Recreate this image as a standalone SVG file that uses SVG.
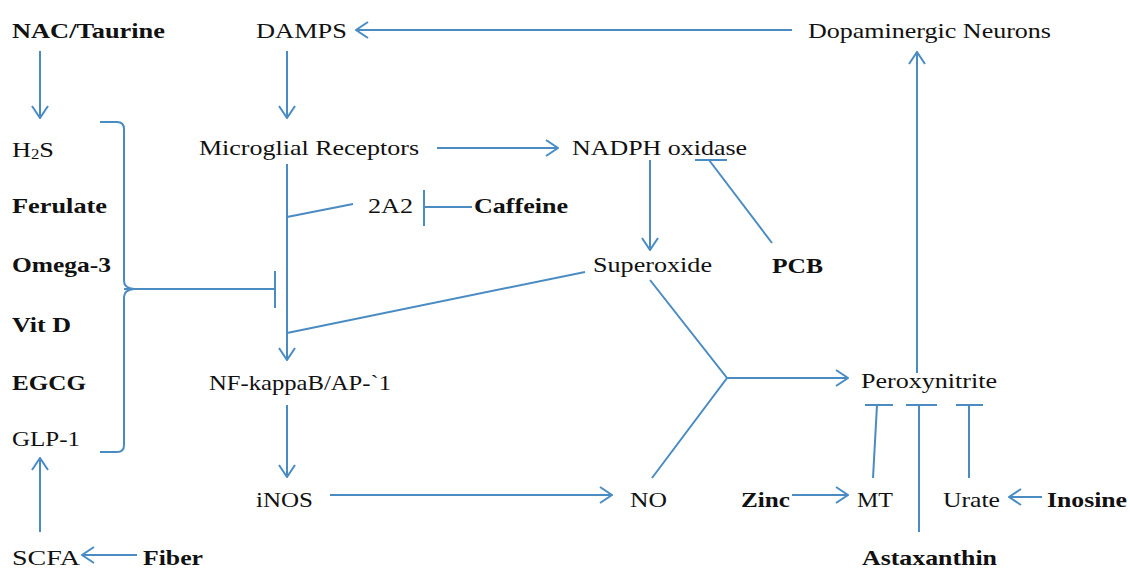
<svg xmlns="http://www.w3.org/2000/svg" width="1130" height="568" viewBox="0 0 1130 568">
<defs>
<style>
text{font-family:"Liberation Serif","Times New Roman",serif;font-size:22px;fill:#111;}
.b{font-weight:bold;}
.c line,.c path,.c polyline{stroke:#4a8bc2;stroke-width:2;fill:none;}
</style>
<marker id="ar" viewBox="0 0 14 18" refX="13" refY="9" markerWidth="14" markerHeight="18" markerUnits="userSpaceOnUse" orient="auto">
<path d="M1,1 L13,9 L1,17" fill="none" stroke="#4a8bc2" stroke-width="2"/>
</marker>
</defs>
<rect width="1130" height="568" fill="#fff"/>
<g class="c" id="connectors">
<line x1="40" y1="51" x2="40" y2="118" marker-end="url(#ar)"/>
<line x1="287" y1="51" x2="287" y2="118" marker-end="url(#ar)"/>
<line x1="792" y1="30" x2="356" y2="30" marker-end="url(#ar)"/>
<line x1="917" y1="373" x2="917" y2="52" marker-end="url(#ar)"/>
<line x1="437" y1="148" x2="558" y2="148" marker-end="url(#ar)"/>
<line x1="287" y1="164" x2="287" y2="360" marker-end="url(#ar)"/>
<line x1="287" y1="217" x2="353" y2="204"/>
<line x1="472" y1="207" x2="424" y2="207"/>
<line x1="424" y1="190" x2="424" y2="226"/>
<line x1="585" y1="272" x2="287" y2="333"/>
<path d="M100,122 H117 Q124,122 124,129 V281 Q124,288 134,289 Q124,290 124,297 V445 Q124,452 117,452 H100"/>
<line x1="124" y1="289" x2="275" y2="289"/>
<line x1="275" y1="271" x2="275" y2="308"/>
<line x1="287" y1="405" x2="287" y2="477" marker-end="url(#ar)"/>
<line x1="330" y1="495" x2="612" y2="495" marker-end="url(#ar)"/>
<line x1="650" y1="160" x2="650" y2="250" marker-end="url(#ar)"/>
<line x1="772" y1="243" x2="709" y2="160"/>
<line x1="695" y1="160" x2="727" y2="160"/>
<polyline points="650,280 727,378 652,478"/>
<line x1="727" y1="378" x2="848" y2="378" marker-end="url(#ar)"/>
<line x1="792" y1="495" x2="848" y2="495" marker-end="url(#ar)"/>
<line x1="873" y1="478" x2="877" y2="405"/>
<line x1="865" y1="405" x2="893" y2="405"/>
<line x1="919" y1="532" x2="919" y2="405"/>
<line x1="906" y1="405" x2="937" y2="405"/>
<line x1="969" y1="478" x2="969" y2="405"/>
<line x1="956" y1="405" x2="983" y2="405"/>
<line x1="1042" y1="497" x2="1009" y2="497" marker-end="url(#ar)"/>
<line x1="137" y1="555" x2="82" y2="555" marker-end="url(#ar)"/>
<line x1="40" y1="532" x2="40" y2="458" marker-end="url(#ar)"/>
</g>
<g id="nac"><text class="b" x="12" y="38" textLength="153" lengthAdjust="spacingAndGlyphs">NAC/Taurine</text></g>
<g id="damps"><text x="256" y="38" textLength="91" lengthAdjust="spacingAndGlyphs">DAMPS</text></g>
<g id="dopaminergic"><text x="808" y="38" textLength="243" lengthAdjust="spacingAndGlyphs">Dopaminergic Neurons</text></g>
<g id="h2s"><text x="12" y="157" textLength="42" lengthAdjust="spacingAndGlyphs">H<tspan font-size="14" dy="2">2</tspan><tspan dy="-2">S</tspan></text></g>
<g id="microglial"><text x="199" y="155" textLength="220" lengthAdjust="spacingAndGlyphs">Microglial Receptors</text></g>
<g id="nadph"><text x="572" y="155" textLength="175" lengthAdjust="spacingAndGlyphs">NADPH oxidase</text></g>
<g id="a2a"><text x="368" y="213" textLength="45" lengthAdjust="spacingAndGlyphs">2A2</text></g>
<g id="caffeine"><text class="b" x="474" y="213" textLength="94" lengthAdjust="spacingAndGlyphs">Caffeine</text></g>
<g id="ferulate"><text class="b" x="12" y="213" textLength="95" lengthAdjust="spacingAndGlyphs">Ferulate</text></g>
<g id="omega3"><text class="b" x="12" y="272" textLength="99" lengthAdjust="spacingAndGlyphs">Omega-3</text></g>
<g id="superoxide"><text x="593" y="272" textLength="119" lengthAdjust="spacingAndGlyphs">Superoxide</text></g>
<g id="pcb"><text class="b" x="772" y="273" textLength="51" lengthAdjust="spacingAndGlyphs">PCB</text></g>
<g id="vitd"><text class="b" x="12" y="332" textLength="59" lengthAdjust="spacingAndGlyphs">Vit D</text></g>
<g id="egcg"><text class="b" x="12" y="390" textLength="74" lengthAdjust="spacingAndGlyphs">EGCG</text></g>
<g id="nfkb"><text x="209" y="390" textLength="182" lengthAdjust="spacingAndGlyphs">NF-kappaB/AP-`1</text></g>
<g id="peroxynitrite"><text x="861" y="388" textLength="136" lengthAdjust="spacingAndGlyphs">Peroxynitrite</text></g>
<g id="glp1"><text x="12" y="446" textLength="68" lengthAdjust="spacingAndGlyphs">GLP-1</text></g>
<g id="inos"><text x="256" y="507" textLength="57" lengthAdjust="spacingAndGlyphs">iNOS</text></g>
<g id="no"><text x="630" y="507" textLength="37" lengthAdjust="spacingAndGlyphs">NO</text></g>
<g id="zinc"><text class="b" x="741" y="507" textLength="49" lengthAdjust="spacingAndGlyphs">Zinc</text></g>
<g id="mt"><text x="857" y="507" textLength="36" lengthAdjust="spacingAndGlyphs">MT</text></g>
<g id="urate"><text x="943" y="507" textLength="57" lengthAdjust="spacingAndGlyphs">Urate</text></g>
<g id="inosine"><text class="b" x="1047" y="507" textLength="80" lengthAdjust="spacingAndGlyphs">Inosine</text></g>
<g id="scfa"><text x="12" y="565" textLength="68" lengthAdjust="spacingAndGlyphs">SCFA</text></g>
<g id="fiber"><text class="b" x="143" y="565" textLength="60" lengthAdjust="spacingAndGlyphs">Fiber</text></g>
<g id="astaxanthin"><text class="b" x="862" y="565" textLength="135" lengthAdjust="spacingAndGlyphs">Astaxanthin</text></g>
</svg>
